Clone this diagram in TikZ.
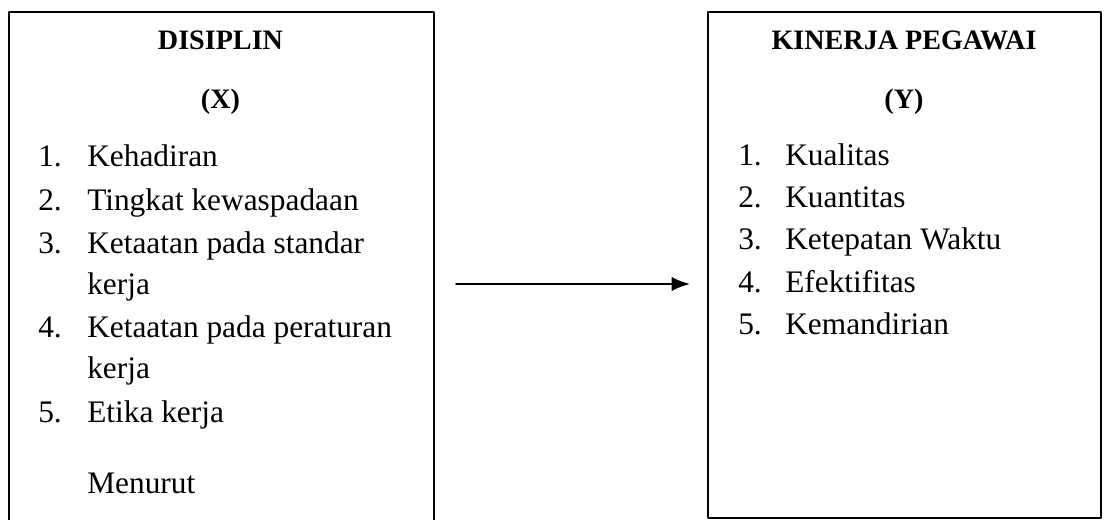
\documentclass[tikz,border=0pt]{standalone}
\usepackage{fontspec}
\setmainfont{Liberation Serif}
\usetikzlibrary{arrows.meta}
\begin{document}
\begin{tikzpicture}[x=0.025cm,y=-0.025cm,line cap=round,line join=round,>={Latex[length=13pt,width=10pt]},
  kotak/.style={draw,line width=1.6pt,inner sep=0,anchor=north west},
  judul/.style={anchor=base,inner sep=0,font=\fontsize{20}{24}\selectfont\bfseries},
  nomor/.style={anchor=base west,inner sep=0,font=\fontsize{22.3}{26}\selectfont},
  butir/.style={anchor=base west,inner sep=0,font=\fontsize{22.3}{26}\selectfont}]
\useasboundingbox (0,0) rectangle (1110,519);
\clip (0,0) rectangle (1110,519);
% kotak variabel
\node (kiri) [kotak,minimum width=10.625cm,minimum height=13.7cm] at (8,11) {};
\node (kanan) [kotak,minimum width=9.825cm,minimum height=12.65cm] at (707,11) {};
% variabel X
\node (jx) [judul] at (220.5,50) {DISIPLIN};
\node (sx) [judul] at (220.5,108) {(X)};
\node (nx1) [nomor] at (38,166) {1.};
\node (bx1) [butir] at (87,166) {Kehadiran};
\node (nx2) [nomor] at (38,210) {2.};
\node (bx2) [butir] at (87,210) {Tingkat kewaspadaan};
\node (nx3) [nomor] at (38,253) {3.};
\node (bx3) [butir] at (87,253) {Ketaatan pada standar};
\node (bx3b) [butir] at (87,294) {kerja};
\node (nx4) [nomor] at (38,337) {4.};
\node (bx4) [butir] at (87,337) {Ketaatan pada peraturan};
\node (bx4b) [butir] at (87,378) {kerja};
\node (nx5) [nomor] at (38,422) {5.};
\node (bx5) [butir] at (87,422) {Etika kerja};
\node (mx) [butir] at (87,493) {Menurut};
% variabel Y
\node (jy) [judul] at (904,50) {KINERJA PEGAWAI};
\node (sy) [judul] at (904,108) {(Y)};
\node (ny1) [nomor] at (738,165) {1.};
\node (by1) [butir] at (785,165) {Kualitas};
\node (ny2) [nomor] at (738,207) {2.};
\node (by2) [butir] at (785,207) {Kuantitas};
\node (ny3) [nomor] at (738,249) {3.};
\node (by3) [butir] at (785,249) {Ketepatan Waktu};
\node (ny4) [nomor] at (738,292) {4.};
\node (by4) [butir] at (785,292) {Efektifitas};
\node (ny5) [nomor] at (738,334) {5.};
\node (by5) [butir] at (785,334) {Kemandirian};
% panah
\coordinate (pangkal) at (456,284);
\coordinate (ujung) at (690,284);
\draw[->,line width=1.2pt] (pangkal) -- (ujung);
\end{tikzpicture}
\end{document}
